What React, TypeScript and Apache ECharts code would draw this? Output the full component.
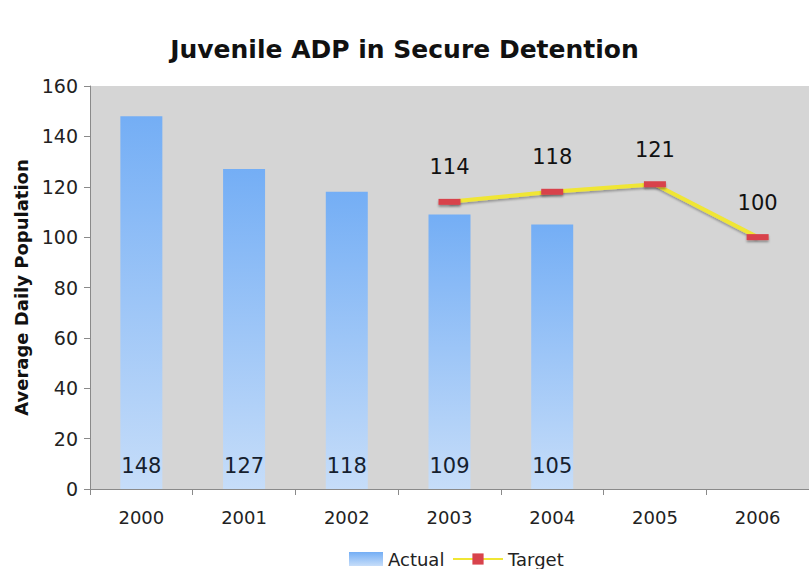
import React, { useEffect, useRef } from "react";
import * as echarts from "echarts";

const years = ["2000", "2001", "2002", "2003", "2004", "2005", "2006"];
const actual: (number | null)[] = [148, 127, 118, 109, 105, null, null];
const target: (number | null)[] = [null, null, null, 114, 118, 121, 100];
const yTicks = { min: 0, max: 160, interval: 20 };

export default function App() {
  const ref = useRef<HTMLDivElement>(null);

  useEffect(() => {
    if (!ref.current) return;
    const chart = echarts.init(ref.current, undefined, { renderer: "svg" });
    const font = "DejaVu Sans, Verdana, sans-serif";
    const legendText = { fontFamily: font, fontSize: 18, lineHeight: 18, color: "#222" };
    chart.setOption({
      animation: false,
      backgroundColor: "#ffffff",
      textStyle: { fontFamily: font },
      title: {
        text: "Juvenile ADP in Secure Detention",
        left: "center",
        top: 32,
        textStyle: { fontFamily: font, fontSize: 25, fontWeight: "bold", color: "#111" },
      },
      legend: [
        {
          data: [{ name: "Actual", icon: "rect" }],
          left: 349,
          top: 550,
          padding: 0,
          itemWidth: 34,
          itemHeight: 14,
          textStyle: legendText,
        },
        {
          data: ["Target"],
          left: 452,
          top: 550,
          padding: 0,
          itemWidth: 50,
          itemHeight: 14,
          textStyle: legendText,
        },
      ],
      grid: {
        left: 90,
        top: 86,
        bottom: 80,
        width: 726,
        show: true,
        backgroundColor: "#d5d5d5",
        borderWidth: 0,
      },
      xAxis: {
        type: "category",
        data: years,
        axisLine: { lineStyle: { color: "#8a8a8a" } },
        axisTick: { show: true, length: 6, lineStyle: { color: "#8a8a8a" } },
        axisLabel: { fontFamily: font, fontSize: 18, color: "#222", margin: 19 },
      },
      yAxis: {
        type: "value",
        min: yTicks.min,
        max: yTicks.max,
        interval: yTicks.interval,
        name: "Average Daily Population",
        nameLocation: "middle",
        nameGap: 60,
        nameTextStyle: { fontFamily: font, fontSize: 18, fontWeight: "bold", color: "#111" },
        axisLine: { show: true, lineStyle: { color: "#8a8a8a" } },
        axisTick: { show: true, length: 6, lineStyle: { color: "#8a8a8a" } },
        splitLine: { show: false },
        axisLabel: { fontFamily: font, fontSize: 19, color: "#222", margin: 12 },
      },
      series: [
        {
          name: "Actual",
          type: "bar",
          data: actual,
          barWidth: 42,
          itemStyle: {
            color: new echarts.graphic.LinearGradient(0, 0, 0, 1, [
              { offset: 0, color: "#74aef5" },
              { offset: 1, color: "#c6ddf9" },
            ]),
          },
          label: {
            show: true,
            position: "insideBottom",
            distance: 13,
            fontFamily: font,
            fontSize: 21,
            color: "#15202e",
          },
        },
        {
          name: "Target",
          type: "line",
          data: target,
          symbol: "rect",
          symbolSize: [22, 6],
          lineStyle: {
            color: "#f0e634",
            width: 4,
            shadowColor: "rgba(0,0,0,0.3)",
            shadowOffsetY: 2,
            shadowBlur: 2,
          },
          itemStyle: {
            color: "#d8434c",
            borderWidth: 0,
            shadowColor: "rgba(0,0,0,0.35)",
            shadowOffsetY: 2,
            shadowBlur: 2,
          },
          label: {
            show: true,
            position: "top",
            distance: 21,
            fontFamily: font,
            fontSize: 21,
            color: "#111",
          },
        },
      ],
    });
    return () => chart.dispose();
  }, []);

  return (
    <div
      ref={ref}
      style={{ position: "fixed", left: 0, top: 0, width: 809, height: 569 }}
    />
  );
}
